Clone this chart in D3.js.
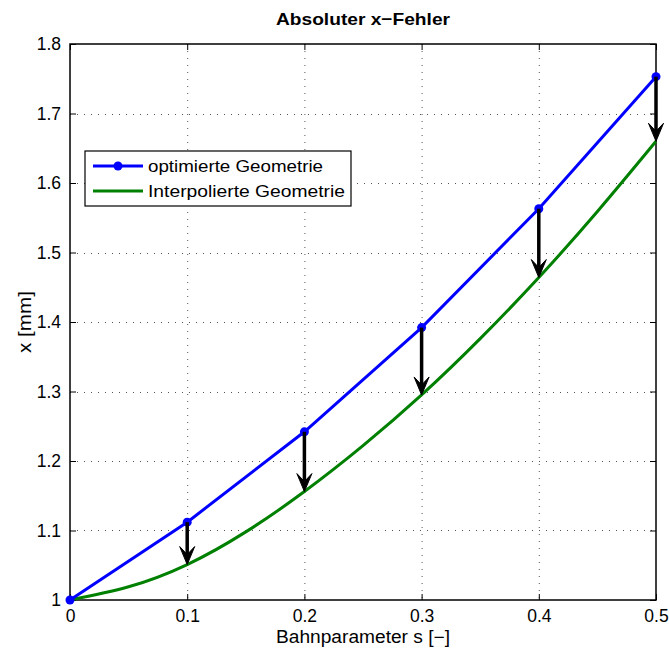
<!DOCTYPE html>
<html>
<head>
<meta charset="utf-8">
<script src="https://cdn.jsdelivr.net/npm/d3@7"></script>
<style>
  html, body { margin: 0; padding: 0; background: #fff; }
  svg { display: block; font-family: "Liberation Sans", Arial, Helvetica, sans-serif; }
</style>
</head>
<body>
<svg id="chart" width="669" height="649"></svg>
<script>
// ---- data ----
const titleText = "Absoluter x\u2212Fehler";
const xLabelText = "Bahnparameter s [\u2212]";
const yLabelText = "x [mm]";
const seriesNames = ["optimierte Geometrie", "Interpolierte Geometrie"];

const sOpt = [0, 0.1, 0.2, 0.3, 0.4, 0.5];
const xOpt = [1.0, 1.112, 1.242, 1.392, 1.563, 1.753];

const sInt = [0, 0.05, 0.1, 0.15, 0.2, 0.25, 0.3, 0.35, 0.4, 0.45, 0.5];
const xInt = [1.0, 1.019, 1.051, 1.098, 1.156, 1.222, 1.295, 1.376, 1.464, 1.559, 1.660];

const xTicks = [0, 0.1, 0.2, 0.3, 0.4, 0.5];
const xTickLabels = ["0", "0.1", "0.2", "0.3", "0.4", "0.5"];
const yTicks = [1.0, 1.1, 1.2, 1.3, 1.4, 1.5, 1.6, 1.7, 1.8];
const yTickLabels = ["1", "1.1", "1.2", "1.3", "1.4", "1.5", "1.6", "1.7", "1.8"];

// arrows: from optimized point down to interpolated curve at same s
const arrowS = [0.1, 0.2, 0.3, 0.4, 0.5];

// ---- layout ----
const L = 70, R = 656, T = 44, B = 600;
const svg = d3.select("#chart");
const x = d3.scaleLinear().domain([0, 0.5]).range([L, R]);
const y = d3.scaleLinear().domain([1.0, 1.8]).range([B, T]);

const blue = "#0000ff", green = "#008000";

// grid
const grid = svg.append("g").attr("stroke", "#555").attr("stroke-width", 1).attr("stroke-dasharray", "1,6");
xTicks.slice(1, -1).forEach(t => {
  grid.append("line").attr("x1", x(t) + 0.5).attr("x2", x(t) + 0.5).attr("y1", T).attr("y2", B);
});
yTicks.slice(1, -1).forEach(t => {
  grid.append("line").attr("x1", L).attr("x2", R).attr("y1", Math.round(y(t)) + 0.5).attr("y2", Math.round(y(t)) + 0.5);
});

// axes with inward ticks (bottom, left, top, right)
const tickLen = 6;
const axB = d3.axisBottom(x).tickValues(xTicks).tickSizeInner(-tickLen).tickSizeOuter(0).tickPadding(10)
  .tickFormat((d, i) => xTickLabels[i]);
const axL = d3.axisLeft(y).tickValues(yTicks).tickSizeInner(-tickLen).tickSizeOuter(0).tickPadding(9)
  .tickFormat((d, i) => yTickLabels[i]);
const axT = d3.axisTop(x).tickValues(xTicks).tickSizeInner(-tickLen).tickSizeOuter(0).tickFormat("");
const axR = d3.axisRight(y).tickValues(yTicks).tickSizeInner(-tickLen).tickSizeOuter(0).tickFormat("");

function styleAxis(g) {
  g.select(".domain").remove();
  g.selectAll(".tick line").attr("stroke", "#000").attr("stroke-width", 1);
  g.selectAll(".tick text").attr("fill", "#000").style("font-size", "17.5px").style("font-family", "'Liberation Sans', Arial, sans-serif");
}
svg.append("g").attr("transform", `translate(0,${B})`).call(axB).call(styleAxis);
svg.append("g").attr("transform", `translate(${L},0)`).call(axL).call(styleAxis);
svg.append("g").attr("transform", `translate(0,${T})`).call(axT).call(styleAxis);
svg.append("g").attr("transform", `translate(${R},0)`).call(axR).call(styleAxis);

// box
svg.append("rect").attr("x", L).attr("y", T).attr("width", R - L).attr("height", B - T)
  .attr("fill", "none").attr("stroke", "#000").attr("stroke-width", 1.5);

// interpolated curve
const lineInt = d3.line().x(d => x(d[0])).y(d => y(d[1])).curve(d3.curveNatural);
svg.append("path").datum(sInt.map((s, i) => [s, xInt[i]]))
  .attr("d", lineInt).attr("fill", "none").attr("stroke", green).attr("stroke-width", 3);

// optimized line
const lineOpt = d3.line().x(d => x(d[0])).y(d => y(d[1]));
const optData = sOpt.map((s, i) => [s, xOpt[i]]);
svg.append("path").datum(optData)
  .attr("d", lineOpt).attr("fill", "none").attr("stroke", blue).attr("stroke-width", 3);
svg.selectAll("circle.opt").data(optData).enter().append("circle")
  .attr("class", "opt").attr("cx", d => x(d[0])).attr("cy", d => y(d[1])).attr("r", 4.5).attr("fill", blue);

// arrows
const arrows = svg.append("g");
arrowS.forEach(s => {
  const y0 = xOpt[sOpt.indexOf(s)];
  const y1 = xInt[sInt.findIndex(v => Math.abs(v - s) < 1e-9)];
  const px = x(s), py0 = y(y0), py1 = y(y1);
  arrows.append("line").attr("x1", px).attr("x2", px).attr("y1", py0).attr("y2", py1 - 10)
    .attr("stroke", "#000").attr("stroke-width", 3.5);
  arrows.append("path")
    .attr("d", `M${px},${py1} L${px - 7.5},${py1 - 18} L${px},${py1 - 10} L${px + 7.5},${py1 - 18} Z`)
    .attr("fill", "#000").attr("stroke", "#000").attr("stroke-width", 1).attr("stroke-linejoin", "miter");
});

// title & labels
svg.append("text").attr("x", (L + R) / 2).attr("y", 25).attr("text-anchor", "middle")
  .style("font-size", "17px").style("font-weight", "bold").attr("textLength", 174).attr("lengthAdjust", "spacingAndGlyphs")
  .text(titleText);
svg.append("text").attr("x", (L + R) / 2).attr("y", 643).attr("text-anchor", "middle")
  .style("font-size", "17.5px").attr("textLength", 174).attr("lengthAdjust", "spacingAndGlyphs")
  .text(xLabelText);
svg.append("text").attr("transform", `translate(31,${(T + B) / 2}) rotate(-90)`).attr("text-anchor", "middle")
  .style("font-size", "17.5px").attr("textLength", 62).attr("lengthAdjust", "spacingAndGlyphs")
  .text(yLabelText);

// legend
const lg = svg.append("g");
lg.append("rect").attr("x", 85).attr("y", 151).attr("width", 266).attr("height", 55)
  .attr("fill", "#fff").attr("stroke", "#000").attr("stroke-width", 1.2);
const rows = [166, 191];
const legendColors = [blue, green];
rows.forEach((ry, i) => {
  lg.append("line").attr("x1", 93).attr("x2", 143).attr("y1", ry).attr("y2", ry)
    .attr("stroke", legendColors[i]).attr("stroke-width", 3);
  if (i === 0) lg.append("circle").attr("cx", 118).attr("cy", ry).attr("r", 4.5).attr("fill", blue);
  lg.append("text").attr("x", 148).attr("y", ry + 6).style("font-size", "17px")
    .attr("textLength", i === 0 ? 175 : 197).attr("lengthAdjust", "spacingAndGlyphs")
    .text(seriesNames[i]);
});
</script>
</body>
</html>
